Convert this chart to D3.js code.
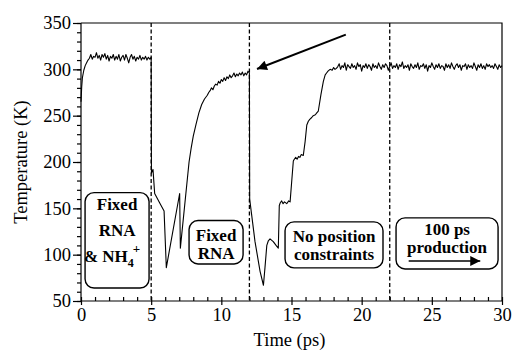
<!DOCTYPE html>
<html>
<head>
<meta charset="utf-8">
<script src="https://cdn.jsdelivr.net/npm/d3@7"></script>
<style>
  body { margin: 0; background: #fff; }
  svg { display: block; font-family: "Liberation Serif", "Times New Roman", serif; }
  .axis text { font-family: "Liberation Serif", "Times New Roman", serif; font-size: 18.5px; fill: #000; }
  .axis line, .axis path { stroke: #000; stroke-width: 1.2; }
  .trace { fill: none; stroke: #000; stroke-width: 1.1; stroke-linejoin: round; }
  .phase { stroke: #000; stroke-width: 1.3; stroke-dasharray: 4 2.5; }
  .box rect { fill: #fff; stroke: #000; stroke-width: 1.4; }
  .box text { font-weight: bold; font-size: 17px; text-anchor: middle; }
</style>
</head>
<body>
<div class="app"></div>
<script>
'use strict'

// time (ps) / temperature (K)
var tempTrace = [
  [0,265],[0.05,281],[0.1,291],[0.2,299],[0.3,304],[0.4,307],[0.5,310],[0.6,312],[0.7,316],[0.8,311],
  [0.9,314],[1.0,313],[1.1,318],[1.2,312],[1.3,315],[1.4,310],[1.5,316],[1.6,313],[1.7,317],[1.8,311],
  [1.9,315],[2.0,309],[2.1,314],[2.2,312],[2.3,316],[2.4,310],[2.5,314],[2.6,311],[2.7,316],[2.8,309],
  [2.9,313],[3.0,315],[3.1,310],[3.2,316],[3.3,312],[3.4,307],[3.5,313],[3.6,316],[3.7,311],[3.8,314],
  [3.9,309],[4.0,313],[4.1,311],[4.2,315],[4.3,310],[4.4,313],[4.5,311],[4.6,314],[4.7,310],[4.8,313],
  [4.9,311],[5.0,313],
  [5.02,188],[5.13,192],[5.25,166],[5.6,156],[5.92,147],[6.08,86],[7.03,166],[7.08,107],
  [7.7,200],[7.85,215],[8.0,228],[8.2,241],[8.4,253],[8.6,262],[8.8,268],[9.0,272],[9.1,275],[9.2,277],
  [9.3,280],[9.4,278],[9.5,282],[9.6,284],[9.7,283],[9.8,287],[9.9,285],[10.0,289],[10.1,287],[10.2,291],
  [10.3,288],[10.4,292],[10.5,290],[10.6,294],[10.7,291],[10.8,293],[10.9,296],[11.0,292],[11.1,295],[11.2,293],
  [11.3,296],[11.4,294],[11.5,297],[11.6,293],[11.7,296],[11.8,294],[11.9,298],[12.0,296],
  [12.02,160],[12.4,114],[12.76,82],[13.0,67],[13.11,86],[13.24,110],[13.35,115],[13.47,117],[13.7,114],[13.9,110],
  [14.06,107],[14.13,153],[14.2,156],[14.3,158],[14.4,155],[14.5,157],[14.66,155],[14.8,158],[14.9,157],
  [15.02,180],[15.13,201],[15.2,203],[15.3,205],[15.4,203],[15.5,206],[15.6,205],[15.7,208],[15.84,207],
  [15.97,222],[16.09,240],[16.2,244],[16.3,246],[16.44,248],[16.55,250],[16.7,251],[16.8,253],[16.91,255],
  [17.1,273],[17.27,287],[17.4,294],[17.5,296],[17.6,298],[17.75,300],[17.9,299],[18.0,302],[18.1,300],[18.2,301],
  [18.3,303],[18.4,306],[18.5,300],[18.6,304],[18.7,302],[18.8,307],[18.9,299],[19.0,305],[19.1,303],[19.2,301],
  [19.3,306],[19.4,302],[19.5,304],[19.6,300],[19.7,307],[19.8,303],[19.9,305],[20.0,298],[20.1,304],[20.2,302],
  [20.3,306],[20.4,301],[20.5,305],[20.6,303],[20.7,299],[20.8,306],[20.9,302],[21.0,304],[21.1,301],[21.2,307],
  [21.3,303],[21.4,300],[21.5,305],[21.6,302],[21.7,306],[21.8,304],[21.9,299],[22.0,303],[22.1,307],[22.2,301],
  [22.3,304],[22.4,302],[22.5,306],[22.6,300],[22.7,305],[22.8,303],[22.9,308],[23.0,301],[23.1,304],[23.2,302],
  [23.3,305],[23.4,299],[23.5,306],[23.6,303],[23.7,301],[23.8,305],[23.9,302],[24.0,307],[24.1,300],[24.2,304],
  [24.3,303],[24.4,306],[24.5,301],[24.6,305],[24.7,298],[24.8,304],[24.9,302],[25.0,307],[25.1,303],[25.2,300],
  [25.3,305],[25.4,302],[25.5,306],[25.6,301],[25.7,304],[25.8,303],[25.9,299],[26.0,306],[26.1,302],[26.2,305],
  [26.3,301],[26.4,307],[26.5,303],[26.6,300],[26.7,304],[26.8,306],[26.9,302],[27.0,305],[27.1,299],[27.2,304],
  [27.3,303],[27.4,306],[27.5,300],[27.6,305],[27.7,302],[27.8,304],[27.9,301],[28.0,307],[28.1,303],[28.2,299],
  [28.3,305],[28.4,302],[28.5,306],[28.6,301],[28.7,304],[28.8,300],[28.9,306],[29.0,303],[29.1,305],[29.2,302],
  [29.3,304],[29.4,301],[29.5,306],[29.6,303],[29.7,300],[29.8,305],[29.9,302],[30.0,304]
];

// dashed lines between stages
var phaseTimes = [5, 12, 22];

var xTicks = [0, 5, 10, 15, 20, 25, 30];
var yTicks = [50, 100, 150, 200, 250, 300, 350];

var stageLabels = [
  ["Fixed", "RNA", "& NH"],
  ["Fixed", "RNA"],
  ["No position", "constraints"],
  ["100 ps", "production"]
];

var xTitle = "Time (ps)";
var yTitle = "Temperature (K)";

// layout
var W = 514, H = 351;
var margin = { top: 23, right: 12, bottom: 50, left: 81 };
var width = W - margin.left - margin.right;
var height = H - margin.top - margin.bottom;

var x = d3.scaleLinear().domain([0, 30]).range([0, width]);
var y = d3.scaleLinear().domain([50, 350]).range([height, 0]);

var svg = d3.select(".app").append("svg")
  .attr("width", W)
  .attr("height", H);

var defs = svg.append("defs");
defs.append("marker")
  .attr("id", "head")
  .attr("viewBox", "0 0 10 10")
  .attr("refX", 10).attr("refY", 5)
  .attr("markerUnits", "userSpaceOnUse")
  .attr("markerWidth", 15).attr("markerHeight", 10)
  .attr("orient", "auto")
  .append("path").attr("d", "M0,0L10,5L0,10Z").attr("fill", "#000");

var g = svg.append("g")
  .attr("transform", "translate(" + margin.left + "," + margin.top + ")");

// frame (top and right)
g.append("path")
  .attr("d", "M0,0H" + width + "V" + height)
  .attr("fill", "none")
  .attr("stroke", "#000")
  .attr("stroke-width", 1.2);

// phase boundaries
g.selectAll(".phase")
  .data(phaseTimes)
  .enter().append("line")
  .attr("class", "phase")
  .attr("x1", function(d) { return x(d); })
  .attr("x2", function(d) { return x(d); })
  .attr("y1", 0)
  .attr("y2", height);

// temperature trace
var line = d3.line()
  .x(function(d) { return x(d[0]); })
  .y(function(d) { return y(d[1]); });

g.append("path")
  .attr("class", "trace")
  .attr("d", line(tempTrace));

// y axis
g.append("g")
  .attr("class", "axis")
  .call(d3.axisLeft(y).tickValues(d3.range(50, 351, 10)).tickSize(4).tickFormat(""))
  .select(".domain").remove();

g.append("g")
  .attr("class", "axis")
  .call(d3.axisLeft(y).tickValues(yTicks).tickSize(8).tickPadding(2).tickFormat(d3.format("d")))
  .select(".domain").attr("d", "M0,0V" + height);

// x axis
g.append("g")
  .attr("class", "axis")
  .attr("transform", "translate(0," + height + ")")
  .call(d3.axisBottom(x).tickValues(d3.range(0, 31, 1)).tickSize(-4).tickFormat(""))
  .select(".domain").remove();

g.append("g")
  .attr("class", "axis")
  .attr("transform", "translate(0," + height + ")")
  .call(d3.axisBottom(x).tickValues(xTicks).tickSize(4).tickPadding(3).tickFormat(d3.format("d")))
  .select(".domain").attr("d", "M0,0H" + width);

// axis titles
svg.append("text")
  .attr("x", margin.left + x(15) - 2)
  .attr("y", 346)
  .attr("text-anchor", "middle")
  .style("font-size", "18.5px")
  .text(xTitle);

svg.append("text")
  .attr("transform", "translate(27," + (margin.top + height / 2) + ") rotate(-90)")
  .attr("text-anchor", "middle")
  .style("font-size", "18.5px")
  .text(yTitle);

// stage boxes, extents in data units
var boxExtents = [
  { t0: 0.29, t1: 4.85, k0: 64, k1: 167, baselines: [210, 236, 262] },
  { t0: 7.70, t1: 11.55, k0: 90, k1: 136.8, baselines: [240.5, 258.5] },
  { t0: 14.54, t1: 21.52, k0: 85.7, k1: 135.4, baselines: [241.5, 259.5] },
  { t0: 22.45, t1: 29.72, k0: 84.6, k1: 139.7, baselines: [234.5, 252.5] }
];

boxExtents.forEach(function(b, i) {
  var bx = x(b.t0), bw = x(b.t1) - x(b.t0);
  var by = y(b.k1), bh = y(b.k0) - y(b.k1);
  var box = g.append("g").attr("class", "box");
  box.append("rect")
    .attr("x", bx).attr("y", by)
    .attr("width", bw).attr("height", bh)
    .attr("rx", 9).attr("ry", 9);
  stageLabels[i].forEach(function(s, j) {
    var t = box.append("text")
      .attr("x", bx + bw / 2 - (i === 0 && j === 2 ? 5 : 0))
      .attr("y", b.baselines[j] - margin.top)
      .text(s);
    if (i === 0 && j === 2) {
      t.append("tspan").attr("dy", 5).style("font-size", "12px").text("4");
      t.append("tspan").attr("dy", -14).attr("dx", -1).style("font-size", "13px").text("+");
    }
  });
});

// production arrow inside last box
g.append("line")
  .attr("x1", x(23.35)).attr("x2", x(28.45))
  .attr("y1", 261 - margin.top).attr("y2", 261 - margin.top)
  .attr("stroke", "#000").attr("stroke-width", 1.6)
  .attr("marker-end", "url(#head)");

// big arrow pointing at the end of the fixed-RNA stage
g.append("line")
  .attr("x1", x(18.87)).attr("y1", y(337.4))
  .attr("x2", x(12.54)).attr("y2", y(300.3))
  .attr("stroke", "#000").attr("stroke-width", 2)
  .attr("marker-end", "url(#head)");
</script>
</body>
</html>
